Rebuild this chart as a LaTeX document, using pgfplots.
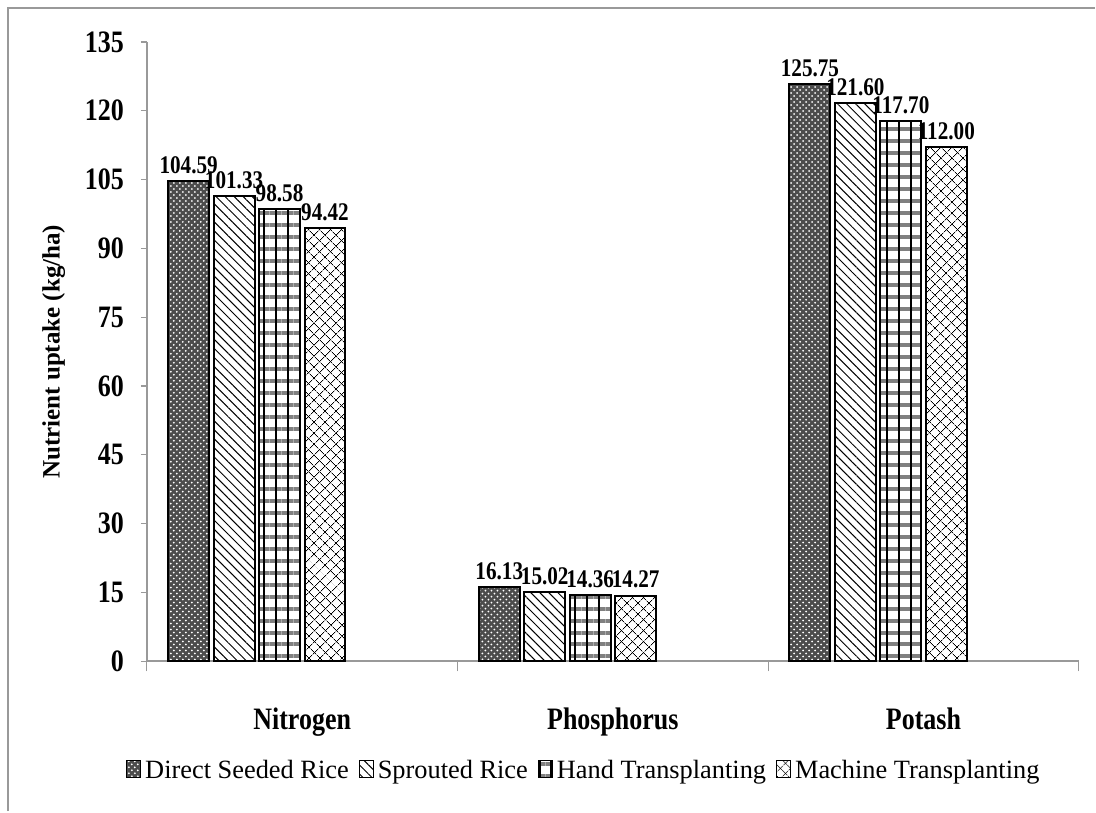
\documentclass[border=0pt]{standalone}
\usepackage{pgfplots}
\pgfplotsset{compat=1.18}
\usepackage{fontspec}
\setmainfont{Liberation Serif}
\usetikzlibrary{patterns,patterns.meta}
\newcommand{\tall}[1]{\scalebox{1}[1.2]{#1}}

\begin{document}
\begin{tikzpicture}
\begin{axis}[
    scale only axis,
    width=466.5pt,
    height=310pt,
    at={(0,0)}, anchor=origin,
    ybar=2.25pt,
    bar width=20.5pt,
    xmin=0, xmax=3,
    ymin=0, ymax=135,
    ytick={0,15,...,135},
    xtick={0.5,1.5,2.5},
    xticklabels={\tall{Nitrogen},\tall{Phosphorus},\tall{Potash}},
    minor xtick={0,1,2,3},
    major x tick style={draw=none},
    minor tick length=5pt,
    major tick length=3pt,
    tick align=outside,
    axis x line*=bottom,
    axis y line*=left,
    axis line style={gray!80, line width=0.8pt},
    every tick/.style={gray!80, line width=0.6pt},
    /pgf/number format/assume math mode=true,
    yticklabel={\tall{\pgfmathprintnumber{\tick}}},
    yticklabel style={font=\fontsize{13}{15}\selectfont\bfseries, xshift=-5pt},
    xticklabel style={font=\fontsize{13}{15}\selectfont\bfseries, yshift=-17pt},
    ylabel={Nutrient uptake (kg/ha)},
    ylabel style={font=\fontsize{12.5}{15}\selectfont\bfseries, at={(axis description cs:-0.1,0.5)}, anchor=center},
    nodes near coords={\tall{\pgfmathprintnumber{\pgfplotspointmeta}}},
    nodes near coords style={font=\fontsize{10.6}{12}\selectfont\bfseries, /pgf/number format/.cd, fixed, fixed zerofill, precision=2},
    every axis plot/.append style={draw=black, line width=1pt},
    legend columns=4,
    legend style={draw=none, at={(0.47,-0.177)}, anchor=center,
        font=\fontsize{13.2}{15}\selectfont,
        /tikz/every even column/.append style={column sep=3pt}},
    legend image code/.code={\draw[#1, line width=0.5pt] (0pt,-3.5pt) rectangle (7pt,5pt);},
]
\addplot[fill=black!70, postaction={pattern=crosshatch dots, pattern color=white}]
    coordinates {(0.354,104.59) (1.354,16.13) (2.354,125.75)};
\addplot[fill=white, postaction={pattern={Lines[angle=-45,distance=3.2pt,line width=0.5pt]}, pattern color=black}]
    coordinates {(0.354,101.33) (1.354,15.02) (2.354,121.60)};
\addplot[fill=white,
    postaction={pattern={Lines[angle=0,distance=6pt,line width=2pt]}, pattern color=gray},
    postaction={pattern={Lines[angle=90,distance=6pt,line width=1.1pt]}, pattern color=black}]
    coordinates {(0.354,98.58) (1.354,14.36) (2.354,117.70)};
\addplot[fill=white,
    postaction={pattern={Lines[angle=45,distance=4pt,line width=0.4pt]}, pattern color=black},
    postaction={pattern={Lines[angle=-45,distance=4pt,line width=0.4pt]}, pattern color=black}]
    coordinates {(0.354,94.42) (1.354,14.27) (2.354,112.00)};
\legend{Direct Seeded Rice, Sprouted Rice, Hand Transplanting, Machine Transplanting}
\end{axis}
\path (-73.5pt,-75pt) rectangle (474.5pt,331pt);
\draw[gray!80, line width=1.2pt] (-69.5pt,-75pt) -- (-69.5pt,327pt) -- (474.5pt,327pt);
\end{tikzpicture}
\end{document}
